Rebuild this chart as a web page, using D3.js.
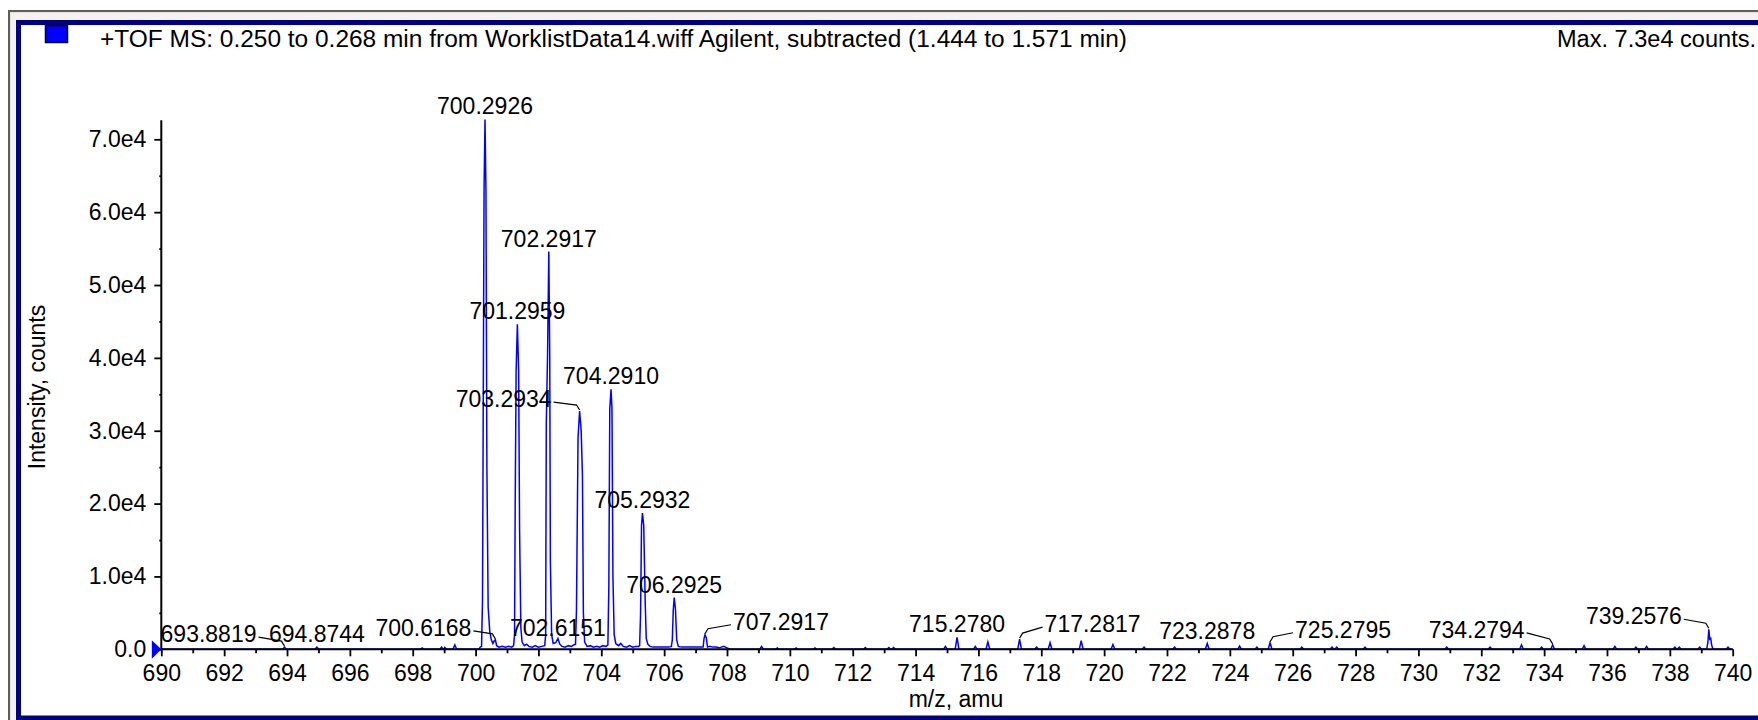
<!DOCTYPE html>
<html><head><meta charset="utf-8">
<script src="https://cdn.jsdelivr.net/npm/d3@7"></script>
<style>html,body{margin:0;padding:0;background:#fff;overflow:hidden;} svg{display:block;}</style>
</head><body>
<svg id="chart" width="1758" height="720"></svg>
<script>
// ---------------- data ----------------
const titleText = "+TOF MS: 0.250 to 0.268 min from WorklistData14.wiff Agilent, subtracted (1.444 to 1.571 min)";
const maxText = "Max. 7.3e4 counts.";
const xAxisTitle = "m/z, amu";
const yAxisTitle = "Intensity, counts";

const xMajorTicks = [690,692,694,696,698,700,702,704,706,708,710,712,714,716,718,720,722,724,726,728,730,732,734,736,738,740];
const xMinorTicks = [691,693,695,697,699,701,703,705,707,709,711,713,715,717,719,721,723,725,727,729,731,733,735,737,739];
const yMajorTicks = [0,10000,20000,30000,40000,50000,60000,70000];
const yTickLabels = ["0.0","1.0e4","2.0e4","3.0e4","4.0e4","5.0e4","6.0e4","7.0e4"];
const yMinorTicks = [5000,15000,25000,35000,45000,55000,65000];
const yAxisMax = 72600;

// profile of the main isotope cluster (m/z, counts)
const clusterMz = [700.10,700.15,700.19,700.22,700.27,700.30,700.33,700.36,700.40,700.45,700.50,700.55,700.60,700.63,700.67,700.75,700.85,700.95,701.05,701.15,
701.21,701.24,701.26,701.29,701.33,701.37,701.40,701.44,701.48,701.55,701.62,701.70,701.80,701.90,702.00,702.10,
702.20,702.23,702.25,702.29,702.33,702.36,702.38,702.42,702.47,702.55,702.62,702.68,702.75,702.85,702.95,703.05,703.12,
703.18,703.21,703.26,703.31,703.36,703.40,703.43,703.47,703.55,703.65,703.75,703.85,703.95,704.05,704.15,
704.21,704.24,704.27,704.31,704.34,704.37,704.41,704.46,704.55,704.62,704.70,704.80,704.90,705.00,705.10,705.18,
705.22,705.25,705.28,705.31,705.35,705.40,705.43,705.48,705.55,705.65,705.75,705.85,705.95,706.05,706.15,
706.23,706.26,706.29,706.32,706.36,706.40,706.45,706.55,706.65,706.75,706.85,706.95,707.05,707.15,
707.24,707.27,707.30,707.34,707.38,707.45,707.55,707.65,707.75,707.90,708.00,708.10];
const clusterCounts = [0,300,400,6700,63000,72700,63000,25000,5800,2500,1300,800,1200,1300,500,300,400,300,400,300,
500,2000,19600,38200,44600,38200,16400,3000,1000,500,700,400,300,500,300,400,
500,2000,31000,40300,54600,40300,12000,2000,800,900,1500,700,400,300,500,400,600,
700,5400,29000,32700,30000,23900,5000,1000,400,500,300,400,300,500,400,
600,8600,33000,35700,33000,10000,2000,800,500,800,400,300,500,300,400,400,
500,4900,17000,18700,17000,6000,1500,700,400,300,300,300,300,300,300,
400,1300,5400,7100,5500,1300,400,300,300,300,300,300,300,300,
300,1500,2000,1600,300,400,300,300,200,400,200,0];

// profile of the 739 peak
const tailMz = [739.17,739.21,739.24,739.27,739.30,739.33,739.37];
const tailCounts = [0,900,2750,1400,1500,600,0];

// small isolated peaks (apex m/z, counts)
const minorMz = [693.92,694.95,698.30,698.92,699.02,699.34,709.10,709.60,710.20,710.80,711.40,712.40,713.15,713.30,714.95,715.32,715.90,716.30,717.31,717.85,718.28,719.27,720.28,721.27,722.24,723.28,724.31,724.86,725.28,726.29,727.25,727.40,728.30,730.90,732.28,733.28,733.92,734.27,735.27,736.25,736.92,737.26,738.16,738.30,738.95,739.85];
const minorCounts = [300,300,200,300,250,600,400,200,200,200,250,250,250,250,400,1650,400,1000,1400,300,900,1200,650,300,300,800,450,300,900,300,300,300,300,300,300,600,300,600,500,400,300,400,300,300,300,300];

// peak annotations
const labelText = ["693.8819","694.8744","700.2926","700.6168","701.2959","702.2917","702.6151","703.2934","704.2910","705.2932","706.2925","707.2917","715.2780","717.2817","723.2878","725.2795","734.2794","739.2576"];
const labelMz = [693.92,694.95,700.30,700.63,701.33,702.33,702.62,703.31,704.31,705.31,706.32,707.30,715.32,717.31,723.28,725.28,734.27,739.24];
const labelCounts = [300,300,72700,1300,44600,54600,1500,32700,35700,18700,7100,2000,1650,1400,800,900,600,2750];

// ---------------- layout ----------------
const labelPlacement = [
  {side:"left",dx:-28,dy:-5},{side:"center",dy:-5},{side:"center",dy:-6},{side:"left",dx:-24,dy:-4},
  {side:"center",dy:-5},{side:"center",dy:-5},{side:"center",dy:-2},{side:"left",dx:-28,dy:-4},
  {side:"center",dy:-5},{side:"center",dy:-5},{side:"center",dy:-5},{side:"right",dx:28,dy:-5},
  {side:"center",dy:-5},{side:"right",dx:25,dy:-7},{side:"center",dy:-4},{side:"right",dx:25,dy:-5},
  {side:"left",dx:-28,dy:-7},{side:"left",dx:-27,dy:-5}
];
const FONT = "'Liberation Sans', Arial, sans-serif";
const FS = 23;

const svg = d3.select("#chart");
const x = d3.scaleLinear().domain([690,740]).range([161.3,1732.7]);
const y = d3.scaleLinear().domain([0,70000]).range([649.3,139.3]);

// ---------------- frame ----------------
svg.append("rect").attr("x",0).attr("y",0).attr("width",1758).attr("height",720).attr("fill","#fff");
svg.append("rect").attr("x",8).attr("y",10).attr("width",1760).attr("height",720).attr("fill","#e6e3dc");
svg.append("rect").attr("x",11).attr("y",13).attr("width",1760).attr("height",720).attr("fill","#f4f2ee");
svg.append("path").attr("d","M9,720 V11 H1758").attr("fill","none").attr("stroke","#5e5e5e").attr("stroke-width",2);
svg.append("rect").attr("x",18.5).attr("y",22.5).attr("width",1800).attr("height",695.5)
  .attr("fill","#fff").attr("stroke","#000080").attr("stroke-width",5);

// legend & header
svg.append("rect").attr("x",45.5).attr("y",25.5).attr("width",22).attr("height",17)
  .attr("fill","#0000ff").attr("stroke","#000").attr("stroke-width",1.5);
svg.append("text").attr("x",100).attr("y",47).attr("font-family",FONT).attr("font-size",FS)
  .attr("textLength",1027).attr("lengthAdjust","spacingAndGlyphs")
  .attr("fill","#000").text(titleText);
svg.append("text").attr("x",1557).attr("y",47).attr("font-family",FONT).attr("font-size",FS)
  .attr("textLength",199).attr("lengthAdjust","spacingAndGlyphs")
  .attr("fill","#000").text(maxText);

// ---------------- spectrum ----------------
const pts = [[690,0],[740,0]];
minorMz.forEach((m,i)=>{ pts.push([m-0.06,0],[m,minorCounts[i]],[m+0.06,0]); });
clusterMz.forEach((m,i)=>pts.push([m,clusterCounts[i]]));
tailMz.forEach((m,i)=>pts.push([m,tailCounts[i]]));
pts.sort((a,b)=>a[0]-b[0]);
const line = d3.line().x(d=>x(d[0])).y(d=>y(d[1]));
svg.append("path").datum(pts).attr("d",line).attr("fill","none")
  .attr("stroke","#0000ff").attr("stroke-width",1.5).attr("stroke-linejoin","miter");

// ---------------- axes ----------------
const AX = "#000";
const gx = svg.append("g").attr("transform",`translate(0,${y(0)})`)
  .call(d3.axisBottom(x).tickValues(xMajorTicks).tickFormat(d3.format("d")).tickSize(7).tickSizeOuter(0).tickPadding(8));
const gxm = svg.append("g").attr("transform",`translate(0,${y(0)})`)
  .call(d3.axisBottom(x).tickValues(xMinorTicks).tickFormat("").tickSize(4).tickSizeOuter(0));
const gy = svg.append("g").attr("transform",`translate(${x(690)},0)`)
  .call(d3.axisLeft(y).tickValues(yMajorTicks).tickFormat((d,i)=>yTickLabels[i]).tickSize(7).tickSizeOuter(0).tickPadding(8));
const gym = svg.append("g").attr("transform",`translate(${x(690)},0)`)
  .call(d3.axisLeft(y).tickValues(yMinorTicks).tickFormat("").tickSize(2).tickSizeOuter(0));
[gx,gxm,gy,gym].forEach(g=>{
  g.select(".domain").remove();
  g.selectAll("line").attr("stroke",AX).attr("stroke-width",1.8);
  g.selectAll("text").attr("font-family",FONT).attr("font-size",FS).attr("fill","#000");
});
svg.append("line").attr("x1",x(690)).attr("x2",x(740)).attr("y1",y(0)).attr("y2",y(0))
  .attr("stroke",AX).attr("stroke-width",2);
svg.append("line").attr("x1",x(690)).attr("x2",x(690)).attr("y1",y(yAxisMax)).attr("y2",y(0))
  .attr("stroke",AX).attr("stroke-width",2);
// origin marker
svg.append("path").attr("d",`M${x(690)-9.5},${y(0)-9} L${x(690)},${y(0)} L${x(690)-9.5},${y(0)+9.5} Z`)
  .attr("fill","#0000ff");

// axis titles
svg.append("text").attr("x",956).attr("y",707).attr("text-anchor","middle")
  .attr("font-family",FONT).attr("font-size",FS).attr("fill","#000").text(xAxisTitle);
svg.append("text").attr("transform","translate(45,387) rotate(-90)").attr("text-anchor","middle")
  .attr("font-family",FONT).attr("font-size",FS).attr("fill","#000").text(yAxisTitle);

// ---------------- annotations ----------------
const gl = svg.append("g");
labelText.forEach((t,i)=>{
  const p = labelPlacement[i];
  const px = x(labelMz[i]), py = y(labelCounts[i]);
  let tx = px, anchor = "middle";
  if (p.side !== "center") {
    const s = p.side === "left" ? -1 : 1;
    tx = px + p.dx; anchor = p.side === "left" ? "end" : "start";
    const lp = [[px,py-1],[px+s*3,py-6],[tx-s*2,py+p.dy-5]];
    gl.append("path").attr("d",d3.line()(lp)).attr("fill","none")
      .attr("stroke","#000").attr("stroke-width",1.2);
  }
  gl.append("text").attr("x",tx).attr("y",py+p.dy).attr("text-anchor",anchor)
    .attr("font-family",FONT).attr("font-size",FS).attr("fill","#000").text(t);
});
</script>
</body></html>
